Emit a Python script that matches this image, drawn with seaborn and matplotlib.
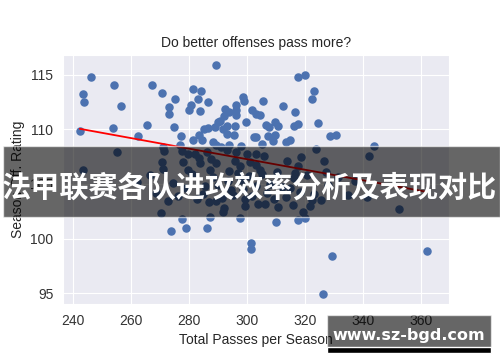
import numpy as np
import pandas as pd
import matplotlib
matplotlib.use('Agg')
import matplotlib.pyplot as plt
import seaborn as sns
from matplotlib.patches import Rectangle

# 每支球队每赛季的总传球数 与 进攻评分
total_passes = [
    246.1, 243.4, 243.9, 242.4, 254.2, 256.6, 253.9, 265.4, 262.3, 267.3,
    270.8, 275.2, 273.2, 273.3, 274.9, 277.3, 276.9, 289.4, 281.3, 284.1,
    283.0, 286.7, 280.7, 280.0, 283.8, 281.4, 283.6, 284.6, 285.3, 286.7,
    289.0, 289.9, 290.8, 292.1, 292.4, 293.8, 296.2, 296.2, 296.1, 298.5,
    298.9, 301.6, 299.7, 295.8, 295.6, 293.0, 293.0, 291.8, 288.2, 289.3,
    291.1, 294.0, 297.9, 302.5, 317.6, 320.1, 323.3, 322.5, 305.4, 312.3,
    303.3, 304.5, 316.7, 309.6, 310.6, 306.5, 307.7, 317.5, 316.2, 324.5,
    328.5, 330.6, 303.3, 307.2, 309.6, 308.9, 305.1, 313.4, 314.8, 343.8,
    274.0, 277.7, 279.0, 286.2, 287.3, 297.8, 301.4, 301.4, 310.2, 317.7,
    320.0, 329.2, 326.3, 362.2,
    243.4, 255.2, 271.0, 271.4, 277.7, 279.8, 282.0, 283.6, 286.3, 287.8,
    289.3, 293.0, 296.4, 299.9, 270.6, 271.1, 278.0, 283.8, 279.8, 287.2,
    295.9, 297.6, 301.0, 324.0, 303.3, 306.0, 318.7, 326.6, 313.9, 317.7,
    303.3, 304.5, 327.4, 316.6, 342.2, 341.3, 352.3, 270.3, 272.9, 291.8,
    292.2, 289.3, 299.3, 299.5, 294.7, 319.4, 321.7, 315.8, 310.9, 306.2,
    303.9, 322.3, 262.0, 285.5, 308.0, 315.0, 298.0,
    266.5, 268.8, 274.5, 276.2, 278.9, 281.2, 282.7, 284.9, 288.4, 290.1,
    291.5, 293.6, 295.2, 297.1, 298.8, 300.6, 301.9, 303.0, 305.3, 306.9,
    309.2, 310.5, 312.0, 313.6, 316.2, 318.4, 320.7, 323.1, 325.4, 328.0,
    331.5, 334.8, 337.2, 287.0, 294.0,
]
off_rating = [
    114.8, 113.2, 112.5, 109.8, 114.1, 112.1, 110.1, 110.4, 109.4, 114.1,
    113.3, 112.8, 112.0, 111.4, 110.2, 109.4, 108.6, 115.9, 113.7, 113.5,
    112.8, 112.5, 112.2, 111.8, 111.7, 109.0, 109.5, 109.0, 110.0, 110.1,
    110.2, 110.7, 110.8, 111.2, 111.9, 111.6, 112.2, 111.8, 111.3, 113.0,
    112.6, 111.8, 110.7, 110.3, 109.5, 110.3, 109.6, 110.0, 108.8, 108.6,
    108.4, 108.6, 108.5, 109.3, 114.8, 115.0, 113.5, 112.8, 112.6, 112.1,
    111.4, 111.3, 111.6, 110.7, 110.3, 110.4, 110.2, 110.5, 110.3, 110.6,
    109.4, 109.5, 109.3, 109.4, 109.5, 108.9, 108.7, 108.8, 109.0, 108.5,
    100.7, 101.8, 101.0, 101.0, 102.0, 101.9, 99.6, 99.0, 101.5, 101.7,
    101.9, 98.4, 94.9, 98.9,
    106.3, 107.9, 108.4, 108.0, 108.0, 107.7, 107.7, 107.4, 107.9, 107.3,
    106.9, 108.1, 107.9, 107.7, 107.0, 106.4, 107.0, 106.9, 106.3, 106.3,
    107.1, 106.6, 107.0, 108.2, 107.7, 107.6, 107.5, 107.1, 107.1, 106.6,
    106.7, 106.3, 106.1, 106.0, 107.6, 103.8, 102.7, 102.3, 103.4, 102.4,
    102.8, 103.4, 103.0, 103.6, 104.4, 102.4, 103.0, 103.1, 102.9, 103.2,
    103.2, 103.5, 105.2, 104.8, 105.0, 104.6, 105.4,
    105.8, 104.2, 105.1, 103.9, 104.6, 105.9, 103.6, 104.1, 105.6, 104.9,
    103.7, 105.3, 104.0, 106.0, 104.5, 105.7, 103.9, 104.8, 105.9, 104.2,
    103.6, 106.1, 104.7, 103.8, 105.5, 104.3, 105.8, 104.1, 103.5, 104.9,
    105.6, 104.0, 105.3, 103.3, 106.2,
]

df = pd.DataFrame({'passes': total_passes, 'rating': off_rating})

sns.set_style('darkgrid')
plt.rcParams['font.family'] = ['Liberation Sans', 'DejaVu Sans']

fig = plt.figure(figsize=(5, 3.62), dpi=100)
ax = fig.add_axes([0.126, 0.160, 0.772, 0.688])

sns.regplot(x='passes', y='rating', data=df, ax=ax, ci=None,
            scatter_kws={'s': 26, 'color': '#4c72b0', 'alpha': 1},
            line_kws={'color': 'red', 'lw': 1.3})

ax.set_xlim(236.6, 369.7)
ax.set_ylim(94.0, 116.8)
ax.set_xticks([240, 260, 280, 300, 320, 340, 360])
ax.set_yticks([95, 100, 105, 110, 115])
ax.tick_params(labelsize=10, colors='#333333')
ax.set_title('Do better offenses pass more?', fontsize=10, color='#262626')
ax.set_xlabel('Total Passes per Season', fontsize=10, color='#262626')
ax.set_ylabel('Season Off. Rating', fontsize=10, color='#262626')

# 横幅遮罩
fig.patches.append(Rectangle((0.006, 0.40), 0.994, 0.197, transform=fig.transFigure,
                             facecolor='black', alpha=0.6, zorder=10))
fig.text(0.5, 0.482, '法甲联赛各队进攻效率分析及表现对比', ha='center', va='center',
         fontsize=21, fontweight='bold', color='white',
         family=['Noto Sans CJK SC', 'DejaVu Sans'], zorder=11)

# 水印
fig.patches.append(Rectangle((0.654, 0.025), 0.328, 0.105, transform=fig.transFigure,
                             facecolor='black', alpha=0.6, zorder=10))
fig.patches.append(Rectangle((0.654, 0.025), 0.328, 0.017, transform=fig.transFigure,
                             facecolor='black', alpha=1, zorder=10))
fig.text(0.818, 0.072, 'www.sz-bgd.com', ha='center', va='center',
         fontsize=11.5, fontweight='bold', color='white',
         family=['DejaVu Sans'], zorder=11)

fig.savefig('out.png', dpi=100)
